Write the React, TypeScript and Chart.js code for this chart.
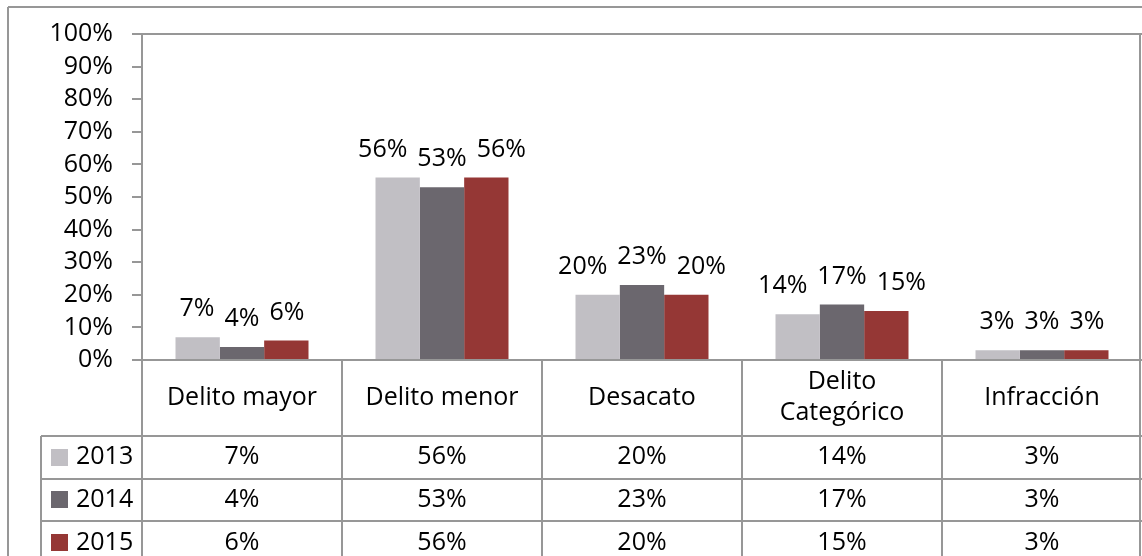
import React, { useEffect, useRef } from "react";
import { Chart, registerables } from "chart.js";

Chart.register(...registerables);

// ---- data ----
const categories: (string | string[])[] = [
  "Delito mayor",
  "Delito menor",
  "Desacato",
  ["Delito", "Categórico"],
  "Infracción",
];
const seriesNames = ["2013", "2014", "2015"];
const values2013 = [7, 56, 20, 14, 3];
const values2014 = [4, 53, 23, 17, 3];
const values2015 = [6, 56, 20, 15, 3];
const seriesColors = ["#C1BFC4", "#6B676E", "#953735"];
const yTickValues = [0, 10, 20, 30, 40, 50, 60, 70, 80, 90, 100];

const FONT = "Open Sans";
const FSIZE = 25;
const LINE = "#979797";
const TEXT = "#000000";
const W = 1142;
const H = 556;

const dataLabelsPlugin = {
  id: "dataLabels",
  afterDatasetsDraw(chart: any) {
    const { ctx } = chart;
    const datasets = chart.data.datasets;
    ctx.save();
    ctx.font = `${FSIZE}px "${FONT}"`;
    ctx.fillStyle = TEXT;
    ctx.textAlign = "center";
    ctx.textBaseline = "middle";
    for (let i = 0; i < categories.length; i++) {
      const els = datasets.map((_: any, d: number) => chart.getDatasetMeta(d).data[i]);
      const texts = datasets.map((ds: any) => `${ds.data[i]}%`);
      const widths = texts.map((t: string) => ctx.measureText(t).width);
      const bw = els[0].width;
      const maxW = Math.max(...widths);
      const shift = Math.max(0, maxW + 10 - bw);
      els.forEach((el: any, d: number) => {
        const dx = d === 0 ? -shift : d === els.length - 1 ? shift : 0;
        ctx.fillText(texts[d], el.x + dx, el.y - 28);
      });
    }
    ctx.restore();
  },
};

const tablePlugin = {
  id: "dataTable",
  afterDraw(chart: any) {
    const { ctx, chartArea: a } = chart;
    const x = chart.scales.x;
    const n = categories.length;
    const colW = (a.right - a.left) / n;
    const catRowBottom = a.bottom + 76;
    const rowH = 42.6;
    const legendLeft = 41;
    const line = (x1: number, y1: number, x2: number, y2: number) => {
      ctx.beginPath();
      ctx.moveTo(x1, y1);
      ctx.lineTo(x2, y2);
      ctx.stroke();
    };
    ctx.save();
    ctx.strokeStyle = LINE;
    ctx.lineWidth = 2;
    // outer chart border
    line(8, 7, W, 7);
    line(8, 7, 8, H);
    // plot area border
    line(a.left, a.top, a.right, a.top);
    line(a.left - 10, a.bottom, a.right, a.bottom);
    line(a.right - 2, a.top, a.right - 2, a.bottom);
    // table vertical lines
    for (let i = 0; i <= n; i++) {
      const bx = i < n ? x.getPixelForValue(i) - colW / 2 : a.right - 2;
      line(Math.round(bx), a.bottom, Math.round(bx), H);
    }
    line(legendLeft, catRowBottom, legendLeft, H);
    // table horizontal lines
    for (let r = 0; r < seriesNames.length + 1; r++) {
      const y = Math.round(catRowBottom + r * rowH);
      line(legendLeft, y, a.right, y);
    }
    // rows
    ctx.font = `${FSIZE}px "${FONT}"`;
    ctx.textBaseline = "middle";
    chart.data.datasets.forEach((ds: any, r: number) => {
      const cy = catRowBottom + r * rowH + rowH / 2;
      ctx.fillStyle = ds.backgroundColor;
      ctx.fillRect(51, Math.round(cy - 8.5), 17, 17);
      ctx.fillStyle = TEXT;
      ctx.textAlign = "left";
      ctx.fillText(ds.label, 76, cy);
      ctx.textAlign = "center";
      ds.data.forEach((v: number, i: number) => {
        ctx.fillText(`${v}%`, x.getPixelForValue(i), cy);
      });
    });
    ctx.restore();
  },
};

export default function App() {
  const ref = useRef<HTMLCanvasElement | null>(null);

  useEffect(() => {
    if (!ref.current) return;
    const seriesValues = [values2013, values2014, values2015];
    const chart = new Chart(ref.current, {
      type: "bar",
      data: {
        labels: categories as any,
        datasets: seriesNames.map((name, k) => ({
          label: name,
          data: seriesValues[k],
          backgroundColor: seriesColors[k],
          borderWidth: 0,
          categoryPercentage: 0.665,
          barPercentage: 1,
        })),
      },
      options: {
        responsive: false,
        animation: false,
        devicePixelRatio: 1,
        layout: { padding: { left: 0, top: 24, right: 0, bottom: 120 } },
        plugins: {
          legend: { display: false },
          tooltip: { enabled: false },
        },
        scales: {
          x: {
            offset: true,
            grid: { display: false, drawTicks: false },
            border: { display: false },
            ticks: {
              font: { family: FONT, size: FSIZE, lineHeight: 1.24 },
              color: TEXT,
              padding: 22,
              crossAlign: "center",
              maxRotation: 0,
              minRotation: 0,
              autoSkip: false,
            },
            afterFit: (s: any) => {
              s.height = 76;
            },
          },
          y: {
            min: 0,
            max: 100,
            afterBuildTicks: (s: any) => {
              s.ticks = yTickValues.map((v) => ({ value: v }));
            },
            ticks: {
              callback: (v: any) => `${v}%`,
              font: { family: FONT, size: FSIZE },
              color: TEXT,
              padding: 19,
              autoSkip: false,
            },
            grid: {
              drawOnChartArea: false,
              drawTicks: true,
              tickLength: 10,
              color: LINE,
              lineWidth: 2,
            },
            border: { display: true, color: LINE, width: 2 },
            afterFit: (s: any) => {
              s.width = 142;
            },
          },
        },
      },
      plugins: [dataLabelsPlugin, tablePlugin],
    });
    return () => chart.destroy();
  }, []);

  return (
    <div style={{ position: "fixed", left: 0, top: 0, width: W, height: H, background: "#fff" }}>
      <canvas ref={ref} width={W} height={H} style={{ width: W, height: H, display: "block" }} />
    </div>
  );
}
